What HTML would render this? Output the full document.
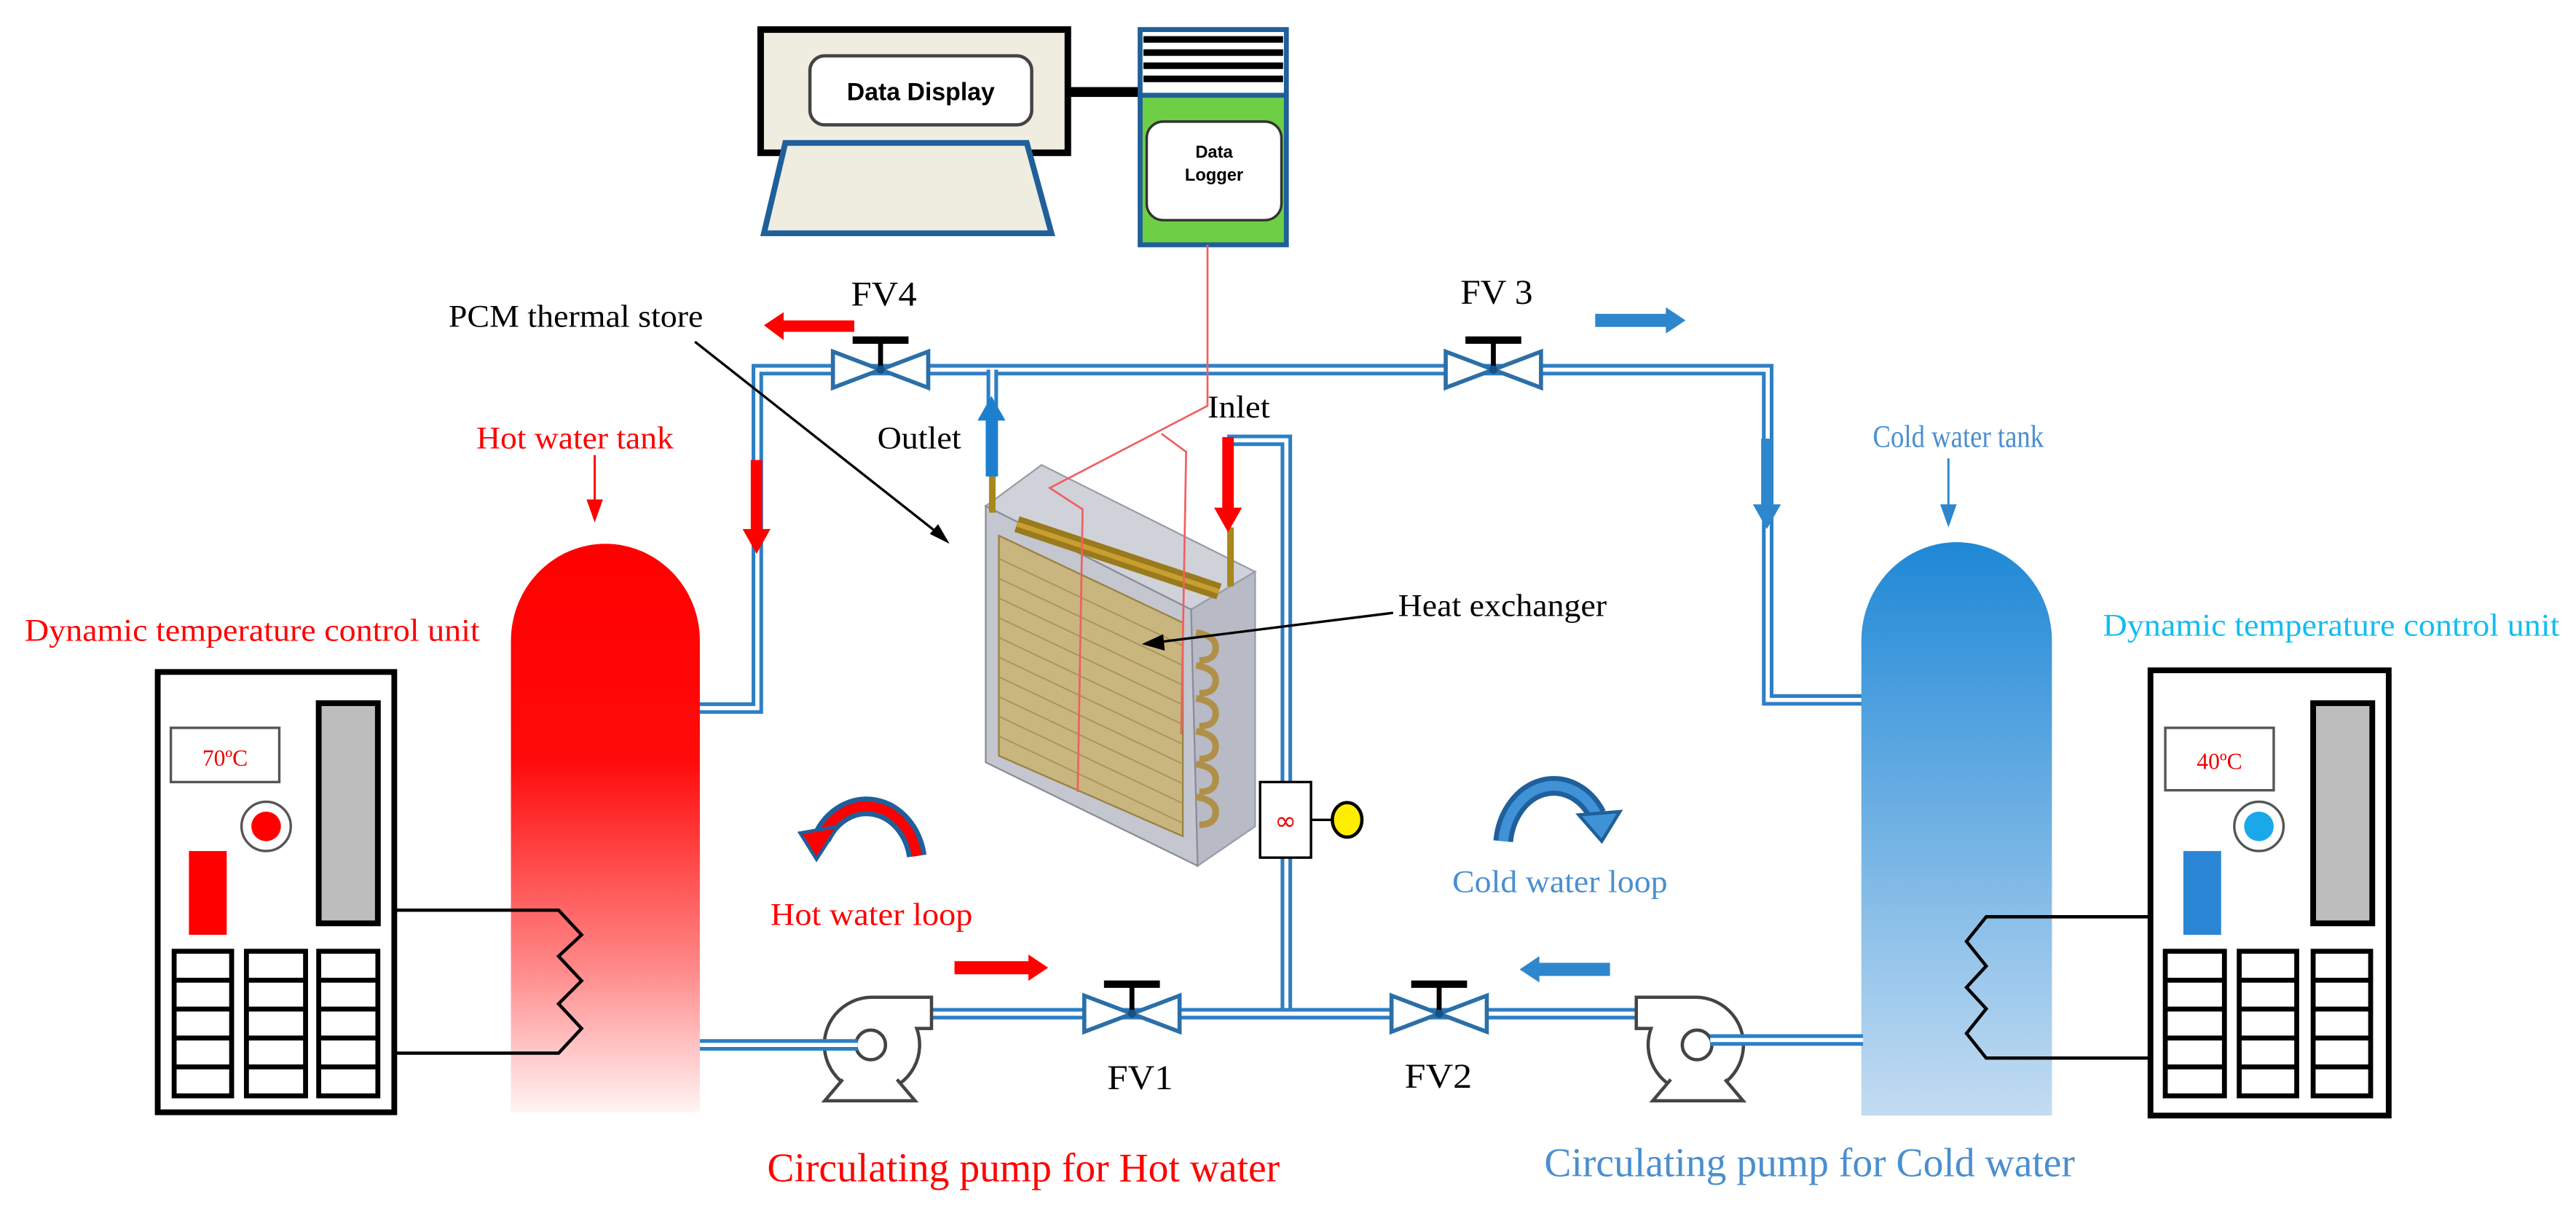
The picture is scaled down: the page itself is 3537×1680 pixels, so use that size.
<!DOCTYPE html>
<html><head><meta charset="utf-8"><style>
html,body{margin:0;padding:0;background:#fff}
svg{display:block}
text{font-family:"Liberation Serif",serif}
</style></head><body>
<svg width="3537" height="1680" viewBox="0 0 1568 745" preserveAspectRatio="none" xmlns="http://www.w3.org/2000/svg">
<defs>
<linearGradient id="hot" x1="0" y1="0" x2="0" y2="1">
<stop offset="0" stop-color="#ff0000"/><stop offset="0.38" stop-color="#ff0a0a"/><stop offset="0.75" stop-color="#ff8a8a"/><stop offset="1" stop-color="#fff4f4"/></linearGradient>
<linearGradient id="cold" x1="0" y1="0" x2="0" y2="1">
<stop offset="0" stop-color="#1f88d6"/><stop offset="1" stop-color="#c3dcf2"/></linearGradient>
<g id="valve"><polygon points="-29,-11 -29,11 0,0" fill="#fff" stroke="#2b6fa8" stroke-width="2.5"/><polygon points="29,-11 29,11 0,0" fill="#fff" stroke="#2b6fa8" stroke-width="2.5"/><line x1="0" y1="0" x2="0" y2="-17" stroke="#000" stroke-width="3"/><line x1="-17" y1="-18" x2="17" y2="-18" stroke="#000" stroke-width="4.5"/><circle r="2.5" fill="#1a4f80"/></g>
</defs>

<rect x="463" y="18" width="187" height="75" fill="#efece0" stroke="#000" stroke-width="4"/>
<rect x="493" y="34" width="135" height="42" rx="9" fill="#fff" stroke="#444" stroke-width="2"/>
<text x="560.5" y="61" text-anchor="middle" font-weight="bold" font-size="15" style="font-family:'Liberation Sans',sans-serif">Data Display</text>
<polygon points="478,87 625,87 640,142 465,142" fill="#efece0" stroke="#1f5f9a" stroke-width="3.5"/>
<rect x="650" y="53" width="45" height="6" fill="#000"/>
<rect x="694" y="18" width="89" height="131" fill="#6ecf45" stroke="#1f5f9a" stroke-width="3"/>
<rect x="695.5" y="19.5" width="86" height="38" fill="#fff"/>
<g fill="#000"><rect x="696" y="22" width="85" height="4"/><rect x="696" y="30" width="85" height="4"/><rect x="696" y="38" width="85" height="4"/><rect x="696" y="46" width="85" height="4"/></g>
<line x1="694" y1="58" x2="783" y2="58" stroke="#1f5f9a" stroke-width="3"/>
<rect x="698" y="74" width="82" height="60" rx="10" fill="#fff" stroke="#333" stroke-width="1.5"/>
<text x="739" y="96" text-anchor="middle" font-weight="bold" font-size="10.5" style="font-family:'Liberation Sans',sans-serif">Data</text>
<text x="739" y="110" text-anchor="middle" font-weight="bold" font-size="10.5" style="font-family:'Liberation Sans',sans-serif">Logger</text>

<g fill="none" stroke-linejoin="miter">
<path d="M426,431 L461,431 L461,225 L1076,225 L1076,426 L1134,426" stroke="#2e7fc4" stroke-width="7"/>
<path d="M426,431 L461,431 L461,225 L1076,225 L1076,426 L1134,426" stroke="#fff" stroke-width="2.5"/>
<path d="M604,225 L604,290" stroke="#2e7fc4" stroke-width="7"/><path d="M604,225 L604,290" stroke="#fff" stroke-width="2.5"/>
<path d="M747,268 L783,268 L783,617" stroke="#2e7fc4" stroke-width="7"/><path d="M747,268 L783,268 L783,617" stroke="#fff" stroke-width="2.5"/>
<path d="M560,617 L1000,617" stroke="#2e7fc4" stroke-width="7"/><path d="M560,617 L1000,617" stroke="#fff" stroke-width="2.5"/>
</g>

<path d="M311,677 L311,390 A57.5,59 0 0 1 426,390 L426,677 Z" fill="url(#hot)"/>
<path d="M1133,679 L1133,390 A58,60 0 0 1 1249,390 L1249,679 Z" fill="url(#cold)"/>

<polygon points="600,308 634,283 764,348 725,371" fill="#d0d2da" stroke="#9a9ca8"/>
<polygon points="725,371 764,348 764,503 729,527" fill="#b8bac6" stroke="#9a9ca8"/>
<polygon points="600,308 725,371 729,527 600,464" fill="#c4c6d0" stroke="#8a8c98"/>
<polygon points="608,326 720,379 720,509 608,460" fill="#c9b57e" stroke="#9a8040"/>
<g stroke="#a8925a" stroke-width="0.8">
<line x1="608" y1="340" x2="720" y2="393"/><line x1="608" y1="352" x2="720" y2="405"/><line x1="608" y1="364" x2="720" y2="417"/><line x1="608" y1="376" x2="720" y2="429"/><line x1="608" y1="388" x2="720" y2="441"/><line x1="608" y1="400" x2="720" y2="453"/><line x1="608" y1="412" x2="720" y2="465"/><line x1="608" y1="424" x2="720" y2="477"/><line x1="608" y1="436" x2="720" y2="489"/><line x1="608" y1="448" x2="720" y2="501"/>
</g>
<g fill="none" stroke="#b09048" stroke-width="4">
<path d="M728,385 q12,2 12,9 q0,8 -10,8 M728,405 q12,2 12,9 q0,8 -10,8 M728,425 q12,2 12,9 q0,8 -10,8 M728,445 q12,2 12,9 q0,8 -10,8 M728,465 q12,2 12,9 q0,8 -10,8 M728,485 q12,2 12,9 q0,8 -10,8"/>
</g>
<line x1="619" y1="319" x2="742" y2="360" stroke="#9a7a1c" stroke-width="10"/>
<line x1="619" y1="319" x2="742" y2="360" stroke="#c8a030" stroke-width="3"/>
<line x1="604" y1="283" x2="604" y2="312" stroke="#a8881c" stroke-width="4"/>
<line x1="749" y1="321" x2="749" y2="357" stroke="#a8881c" stroke-width="4"/>
<g fill="none" stroke="#f06060" stroke-width="1.2">
<path d="M735,149 L735,247 L639,297 L659,310 L656,482"/>
<path d="M707,264 L722,275 L719,447"/>
</g>

<use href="#valve" x="536" y="225"/>
<use href="#valve" x="909" y="225"/>
<use href="#valve" x="689" y="617"/>
<use href="#valve" x="876" y="617"/>

<g fill="#fff" stroke="#444" stroke-width="2">
<path d="M530,607 L567,607 L567,626 L558,626 A29,29 0 1 1 530,607 Z"/>
<path d="M513,657 L502,670 L557,670 L546,657"/>
<circle cx="530" cy="636" r="9"/>
<g transform="translate(1563,0) scale(-1,1)">
<path d="M530,607 L567,607 L567,626 L558,626 A29,29 0 1 1 530,607 Z"/>
<path d="M513,657 L502,670 L557,670 L546,657"/>
<circle cx="530" cy="636" r="9"/>
</g>
</g>
<line x1="426" y1="636" x2="522" y2="636" stroke="#2e7fc4" stroke-width="7"/><line x1="426" y1="636" x2="522" y2="636" stroke="#fff" stroke-width="2.5"/>
<line x1="1041" y1="633" x2="1134" y2="633" stroke="#2e7fc4" stroke-width="7"/><line x1="1041" y1="633" x2="1134" y2="633" stroke="#fff" stroke-width="2.5"/>

<rect x="767" y="476" width="31" height="46" fill="#fff" stroke="#000" stroke-width="1.5"/>
<text x="782.5" y="505" text-anchor="middle" font-size="16" fill="#e00" style="font-family:'DejaVu Sans',sans-serif">∞</text>
<line x1="798" y1="499" x2="811" y2="499" stroke="#000" stroke-width="1.5"/>
<ellipse cx="820" cy="499" rx="9" ry="10.5" fill="#ffee00" stroke="#000" stroke-width="2"/>

<g stroke="#000" fill="none">
<rect x="96" y="409" width="144" height="268" stroke-width="3.5"/>
<rect x="104" y="443" width="66" height="33" stroke="#555" stroke-width="1.5"/>
<rect x="194" y="428" width="36" height="134" fill="#bdbdbd" stroke-width="3.5"/>
<circle cx="162" cy="503" r="15" stroke="#555" stroke-width="1.5"/>
<path d="M240,554 L340,554 L354,569 L340,582 L354,597 L340,611 L354,626 L340,641 L240,641" stroke-width="2"/>
<rect x="1309" y="408" width="145" height="271" stroke-width="3.5"/>
<rect x="1318" y="443" width="66" height="38" stroke="#555" stroke-width="1.5"/>
<rect x="1408" y="428" width="36" height="134" fill="#bdbdbd" stroke-width="3.5"/>
<circle cx="1375" cy="503" r="15" stroke="#555" stroke-width="1.5"/>
<path d="M1309,558 L1209,558 L1197,573 L1209,588 L1197,601 L1209,614 L1197,629 L1209,644 L1309,644" stroke-width="2"/>
</g>
<circle cx="162" cy="503" r="9" fill="#f00"/>
<circle cx="1375" cy="503" r="9" fill="#1aa8ea"/>
<rect x="115" y="518" width="23" height="51" fill="#f00"/>
<rect x="1329" y="518" width="23" height="51" fill="#2a86d4"/>
<g fill="none" stroke="#000" stroke-width="3">
<rect x="106" y="579" width="35" height="88"/><rect x="150" y="579" width="36" height="88"/><rect x="194" y="579" width="36" height="88"/>
<rect x="1318" y="579" width="36" height="88"/><rect x="1363" y="579" width="35" height="88"/><rect x="1408" y="579" width="35" height="88"/>
<path d="M106,596.6 H141 M106,614.2 H141 M106,631.8 H141 M106,649.4 H141 M150,596.6 H186 M150,614.2 H186 M150,631.8 H186 M150,649.4 H186 M194,596.6 H230 M194,614.2 H230 M194,631.8 H230 M194,649.4 H230"/>
<path d="M1318,596.6 H1354 M1318,614.2 H1354 M1318,631.8 H1354 M1318,649.4 H1354 M1363,596.6 H1398 M1363,614.2 H1398 M1363,631.8 H1398 M1363,649.4 H1398 M1408,596.6 H1443 M1408,614.2 H1443 M1408,631.8 H1443 M1408,649.4 H1443"/>
</g>
<text x="137" y="466" text-anchor="middle" font-size="14" fill="#e00">70ºC</text>
<text x="1351" y="468" text-anchor="middle" font-size="14" fill="#e00">40ºC</text>

<polygon points="465,198 477,190 477,195 520,195 520,202 477,202 477,207" fill="#f00"/>
<polygon points="1026,195 1014,187 1014,191 971,191 971,199 1014,199 1014,203" fill="#2e86cc"/>
<polygon points="638,589 626,581 626,585 581,585 581,593 626,593 626,597" fill="#f00"/>
<polygon points="925,590 937,582 937,586 980,586 980,594 937,594 937,598" fill="#2e86cc"/>
<polygon points="457,280 464,280 464,322 469,322 460.5,337 452,322 457,322" fill="#f00"/>
<polygon points="744,266 751,266 751,309 756,309 747.5,324 739,309 744,309" fill="#f00"/>
<polygon points="1072,267 1079,267 1079,307 1084,307 1075.5,322 1067,307 1072,307" fill="#2e86cc"/>
<polygon points="600,290 607,290 607,256 612,256 603.5,241 595,256 600,256" fill="#1e7fcf"/>
<line x1="362" y1="277" x2="362" y2="306" stroke="#f00" stroke-width="1.3"/><polygon points="357,304 367,304 362,318" fill="#f00"/>
<line x1="1186" y1="279" x2="1186" y2="309" stroke="#2e86cc" stroke-width="1.3"/><polygon points="1181,307 1191,307 1186,321" fill="#2e86cc"/>

<path d="M558,521 A31,36 0 0 0 500,510" fill="none" stroke="#1f5f9a" stroke-width="12"/>
<path d="M558,521 A31,36 0 0 0 500,510" fill="none" stroke="#f00" stroke-width="6"/>
<polygon points="487,507 510,503 497,523" fill="#f00" stroke="#1f5f9a" stroke-width="2"/>
<path d="M915,512 A31,38 0 0 1 972,496" fill="none" stroke="#1f5f9a" stroke-width="12"/>
<path d="M915,512 A31,38 0 0 1 972,496" fill="none" stroke="#3f92d6" stroke-width="6"/>
<polygon points="961,496 986,494 975,512" fill="#3f92d6" stroke="#1f5f9a" stroke-width="2"/>

<line x1="423" y1="208" x2="574" y2="327" stroke="#000" stroke-width="1.5"/><polygon points="578,331 566,325 571,319" fill="#000"/>
<line x1="848" y1="373" x2="704" y2="391" stroke="#000" stroke-width="1.5"/><polygon points="695,392 708,386 709,396" fill="#000"/>

<text x="273" y="199" font-size="19" textLength="155" lengthAdjust="spacingAndGlyphs">PCM thermal store</text>
<text x="518" y="186" font-size="21" textLength="40" lengthAdjust="spacingAndGlyphs">FV4</text>
<text x="889" y="185" font-size="21" textLength="44" lengthAdjust="spacingAndGlyphs">FV 3</text>
<text x="534" y="273" font-size="19" textLength="51" lengthAdjust="spacingAndGlyphs">Outlet</text>
<text x="735" y="254" font-size="19" textLength="38" lengthAdjust="spacingAndGlyphs">Inlet</text>
<text x="851" y="375" font-size="19" textLength="127" lengthAdjust="spacingAndGlyphs">Heat exchanger</text>
<text x="290" y="273" font-size="19" fill="#f00" textLength="120" lengthAdjust="spacingAndGlyphs">Hot water tank</text>
<text x="1140" y="272" font-size="19" fill="#4a8fcf" textLength="104" lengthAdjust="spacingAndGlyphs">Cold water tank</text>
<text x="15" y="390" font-size="19" fill="#f00" textLength="277" lengthAdjust="spacingAndGlyphs">Dynamic temperature control unit</text>
<text x="1280" y="387" font-size="19" fill="#12bdf0" textLength="278" lengthAdjust="spacingAndGlyphs">Dynamic temperature control unit</text>
<text x="469" y="563" font-size="19" fill="#f00" textLength="123" lengthAdjust="spacingAndGlyphs">Hot water loop</text>
<text x="884" y="543" font-size="19" fill="#4a8fcf" textLength="131" lengthAdjust="spacingAndGlyphs">Cold water loop</text>
<text x="674" y="663" font-size="21" textLength="40" lengthAdjust="spacingAndGlyphs">FV1</text>
<text x="855" y="662" font-size="21" textLength="41" lengthAdjust="spacingAndGlyphs">FV2</text>
<text x="467" y="719" font-size="25" fill="#f00" textLength="312" lengthAdjust="spacingAndGlyphs">Circulating pump for Hot water</text>
<text x="940" y="716" font-size="25" fill="#4a8fcf" textLength="323" lengthAdjust="spacingAndGlyphs">Circulating pump for Cold water</text>
</svg>
</body></html>
